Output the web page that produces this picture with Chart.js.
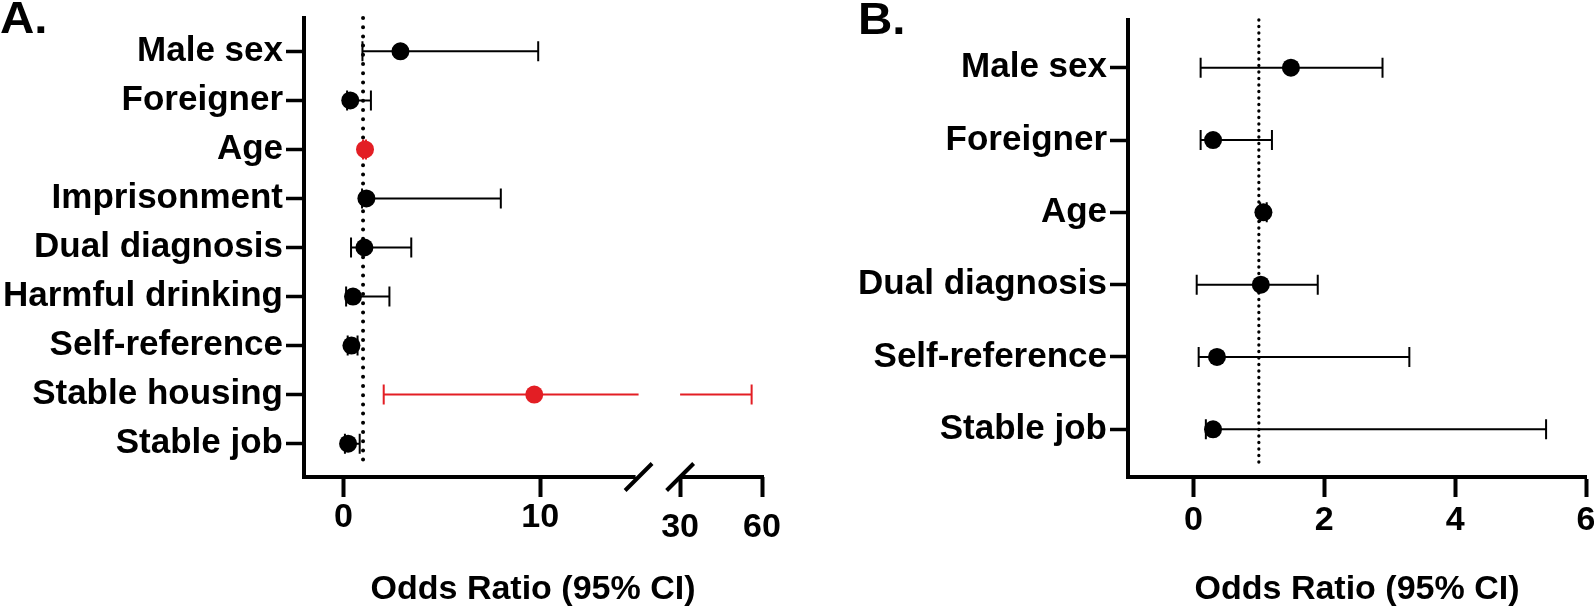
<!DOCTYPE html>
<html>
<head>
<meta charset="utf-8">
<script src="https://cdn.jsdelivr.net/npm/chart.js@4.4.0/dist/chart.umd.min.js"></script>
<style>
  html, body { margin: 0; padding: 0; background: #fff; overflow: hidden; width: 1594px; height: 612px; }
  canvas { position: absolute; top: 0; }
  .letter { position: absolute; font-family: 'Liberation Sans', Arial, sans-serif; font-weight: bold;
            font-size: 44px; line-height: 44px; transform: scaleX(1.08); transform-origin: left top; color: #000; }
</style>
</head>
<body>
<canvas id="chartA" width="790" height="612" style="left:0"></canvas>
<canvas id="chartB" width="830" height="612" style="left:800px"></canvas>
<div class="letter" style="left:0;top:-4px">A.</div>
<div class="letter" style="left:858px;top:-3px">B.</div>
<script>
// panel A
const labelsA = ['Male sex', 'Foreigner', 'Age', 'Imprisonment', 'Dual diagnosis', 'Harmful drinking', 'Self-reference', 'Stable housing', 'Stable job'];
const orA   = [2.9, 0.35, 1.1, 1.17, 1.07, 0.49, 0.41, 9.7, 0.24];
const lowA  = [0.97, 0.19, 1.0, 0.95, 0.39, 0.14, 0.22, 2.05, 0.08];
const highA = [9.9, 1.4, 1.15, 8.0, 3.45, 2.34, 0.72, 56.2, 0.83];
const sigA  = [false, false, true, false, false, false, false, true, false];
const ticksA = [0, 10, 30, 60];

// panel B
const labelsB = ['Male sex', 'Foreigner', 'Age', 'Dual diagnosis', 'Self-reference', 'Stable job'];
const orB   = [1.49, 0.30, 1.07, 1.03, 0.36, 0.30];
const lowB  = [0.11, 0.11, 1.02, 0.05, 0.08, 0.19];
const highB = [2.89, 1.20, 1.12, 1.90, 3.30, 5.39];
const ticksB = [0, 2, 4, 6];

const RED = '#e31e24';
const FONT = "'Liberation Sans', Arial, sans-serif";
Chart.defaults.font.family = FONT;
Chart.defaults.color = '#000';

// broken x axis in panel A: 15..30 is cut out, 30..60 squeezed
const BREAK_LO = 15, BREAK_HI = 30, GAP = 2.11, SQUEEZE = 0.1387;
function toAxis(v) {
    return v <= BREAK_LO ? v : BREAK_LO + GAP + (v - BREAK_HI) * SQUEEZE;
}

const forest = {
    id: 'forest',
    beforeDatasetsDraw(chart, args, o) {
        const {ctx, chartArea, scales: {x, y}} = chart;
        const map = o.map || (v => v);
        ctx.save();
        // OR = 1 reference line
        const rx = x.getPixelForValue(map(1));
        ctx.strokeStyle = '#000';
        ctx.lineWidth = o.dotSize;
        ctx.lineCap = 'round';
        ctx.setLineDash([0, o.dotGap]);
        ctx.beginPath();
        ctx.moveTo(rx, chartArea.top);
        ctx.lineTo(rx, chartArea.bottom - 9);
        ctx.stroke();
        ctx.setLineDash([]);
        ctx.lineCap = 'butt';
        ctx.lineWidth = 2;
        o.low.forEach((lo, i) => {
            const hi = o.high[i];
            const py = y.getPixelForValue(i);
            const x1 = x.getPixelForValue(map(lo));
            const x2 = x.getPixelForValue(map(hi));
            ctx.strokeStyle = o.colors[i];
            ctx.beginPath();
            if (o.brk && lo < o.brk[0] && hi > o.brk[1]) {
                ctx.moveTo(x1, py);
                ctx.lineTo(x.getPixelForValue(map(o.brk[0])), py);
                ctx.moveTo(x.getPixelForValue(map(o.brk[1])), py);
                ctx.lineTo(x2, py);
            } else {
                ctx.moveTo(x1, py);
                ctx.lineTo(x2, py);
            }
            ctx.moveTo(x1, py - 10); ctx.lineTo(x1, py + 10);
            ctx.moveTo(x2, py - 10); ctx.lineTo(x2, py + 10);
            ctx.stroke();
        });
        ctx.restore();
    },
    afterDraw(chart, args, o) {
        if (!o.brk) return;
        const {ctx, chartArea, scales: {x}} = chart;
        const yb = chartArea.bottom;
        const b1 = x.getPixelForValue(toAxis(o.brk[0]));
        const b2 = x.getPixelForValue(toAxis(o.brk[1]));
        ctx.save();
        ctx.strokeStyle = '#000';
        ctx.lineWidth = 4;
        ctx.beginPath();
        ctx.moveTo(chartArea.left - 2, yb); ctx.lineTo(b1 - 3, yb);
        ctx.moveTo(b2, yb); ctx.lineTo(chartArea.right + 2, yb);
        [b1, b2].forEach(bx => {
            ctx.moveTo(bx - 13.5, yb + 13.5);
            ctx.lineTo(bx + 13.5, yb - 13.5);
        });
        ctx.stroke();
        ctx.restore();
    }
};

function yAxis(labels, width, pad) {
    return {
        type: 'linear', reverse: true, min: -pad, max: labels.length - 1 + pad,
        afterBuildTicks: s => { s.ticks = labels.map((_, i) => ({value: i})); },
        afterFit: s => { s.width = width; s.paddingTop = 0; s.paddingBottom = 0; },
        border: {display: true, color: '#000', width: 4},
        grid: {drawOnChartArea: false, drawTicks: true, tickLength: 18, tickWidth: 3.5, tickColor: '#000'},
        ticks: {
            autoSkip: false, padding: 3, color: '#000',
            font: {size: 35, weight: 'bold', lineHeight: 1.2},
            callback: (v, i) => labels[i]
        }
    };
}

function xTitle() {
    return {
        display: true, text: 'Odds Ratio (95% CI)', color: '#000',
        font: {size: 34, weight: 'bold', lineHeight: 1.2}, padding: {top: 0, bottom: 2}
    };
}

new Chart(document.getElementById('chartA'), {
    type: 'scatter',
    data: {
        datasets: [{
            data: orA.map((v, i) => ({x: toAxis(v), y: i})),
            pointRadius: 9, pointHoverRadius: 9, borderWidth: 0,
            pointBackgroundColor: sigA.map(s => s ? RED : '#000'),
            pointBorderColor: sigA.map(s => s ? RED : '#000')
        }]
    },
    options: {
        responsive: false, animation: false,
        layout: {padding: {left: 0, right: 28, top: 18, bottom: 0}},
        plugins: {
            legend: {display: false}, tooltip: {enabled: false},
            forest: {
                low: lowA, high: highA, colors: sigA.map(s => s ? RED : '#000'),
                map: toAxis, brk: [BREAK_LO, BREAK_HI], dotSize: 4, dotGap: 9.2
            }
        },
        scales: {
            x: {
                type: 'linear', min: -2, max: toAxis(60),
                afterBuildTicks: s => { s.ticks = ticksA.map(v => ({value: toAxis(v)})); },
                afterFit: s => { s.height = 135; s.paddingLeft = 0; s.paddingRight = 0; },
                border: {display: false},
                grid: {drawOnChartArea: false, drawTicks: true, tickLength: 20, tickWidth: 4, tickColor: '#000'},
                ticks: {
                    autoSkip: false, maxRotation: 0, padding: 0, color: '#000',
                    font: c => ({size: 34, weight: 'bold', lineHeight: c.tick && c.tick.value > BREAK_LO ? 1.8 : 1.2}),
                    callback: (v, i) => String(ticksA[i])
                },
                title: xTitle()
            },
            y: yAxis(labelsA, 304, 0.68)
        }
    },
    plugins: [forest]
});

new Chart(document.getElementById('chartB'), {
    type: 'scatter',
    data: {
        datasets: [{
            data: orB.map((v, i) => ({x: v, y: i})),
            pointRadius: 9, pointHoverRadius: 9, borderWidth: 0,
            pointBackgroundColor: '#000', pointBorderColor: '#000'
        }]
    },
    options: {
        responsive: false, animation: false,
        layout: {padding: {left: 0, right: 44, top: 20, bottom: 0}},
        plugins: {
            legend: {display: false}, tooltip: {enabled: false},
            forest: {low: lowB, high: highB, colors: orB.map(() => '#000'), dotSize: 3.3, dotGap: 6.5}
        },
        scales: {
            x: {
                type: 'linear', min: -1, max: 6,
                afterBuildTicks: s => { s.ticks = ticksB.map(v => ({value: v})); },
                afterFit: s => { s.height = 135; s.paddingLeft = 0; s.paddingRight = 0; },
                border: {display: true, color: '#000', width: 4},
                grid: {drawOnChartArea: false, drawTicks: true, tickLength: 20, tickWidth: 4, tickColor: '#000'},
                ticks: {
                    autoSkip: false, maxRotation: 0, padding: 3, color: '#000',
                    font: {size: 34, weight: 'bold', lineHeight: 1.2},
                    callback: v => String(v)
                },
                title: xTitle()
            },
            y: yAxis(labelsB, 328, 0.66)
        }
    },
    plugins: [forest]
});
</script>
</body>
</html>
